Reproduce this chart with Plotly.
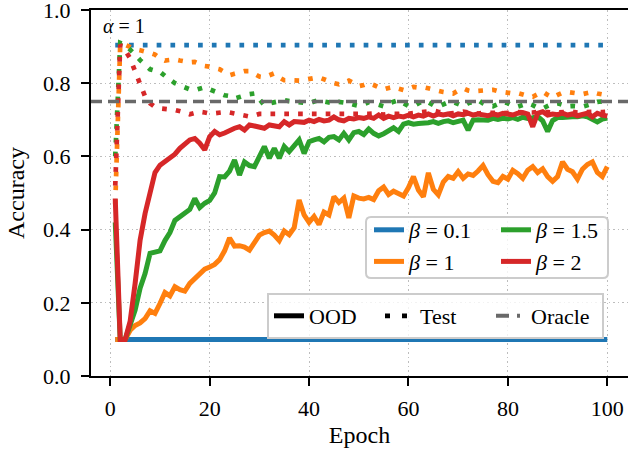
import plotly.graph_objects as go

# ---------------- data ----------------
epochs = list(range(1, 101))

b_ood = [
    0.100, 0.100, 0.100, 0.100, 0.100, 0.100, 0.100, 0.100, 0.100, 0.100,
    0.100, 0.100, 0.100, 0.100, 0.100, 0.100, 0.100, 0.100, 0.100, 0.100,
    0.100, 0.100, 0.100, 0.100, 0.100, 0.100, 0.100, 0.100, 0.100, 0.100,
    0.100, 0.100, 0.100, 0.100, 0.100, 0.100, 0.100, 0.100, 0.100, 0.100,
    0.100, 0.100, 0.100, 0.100, 0.100, 0.100, 0.100, 0.100, 0.100, 0.100,
    0.100, 0.100, 0.100, 0.100, 0.100, 0.100, 0.100, 0.100, 0.100, 0.100,
    0.100, 0.100, 0.100, 0.100, 0.100, 0.100, 0.100, 0.100, 0.100, 0.100,
    0.100, 0.100, 0.100, 0.100, 0.100, 0.100, 0.100, 0.100, 0.100, 0.100,
    0.100, 0.100, 0.100, 0.100, 0.100, 0.100, 0.100, 0.100, 0.100, 0.100,
    0.100, 0.100, 0.100, 0.100, 0.100, 0.100, 0.100, 0.100, 0.100, 0.100,
]
b_test = [
    0.904, 0.904, 0.904, 0.904, 0.904, 0.904, 0.904, 0.904, 0.904, 0.904,
    0.904, 0.904, 0.904, 0.904, 0.904, 0.904, 0.904, 0.904, 0.904, 0.904,
    0.904, 0.904, 0.904, 0.904, 0.904, 0.904, 0.904, 0.904, 0.904, 0.904,
    0.904, 0.904, 0.904, 0.904, 0.904, 0.904, 0.904, 0.904, 0.904, 0.904,
    0.904, 0.904, 0.904, 0.904, 0.904, 0.904, 0.904, 0.904, 0.904, 0.904,
    0.904, 0.904, 0.904, 0.904, 0.904, 0.904, 0.904, 0.904, 0.904, 0.904,
    0.904, 0.904, 0.904, 0.904, 0.904, 0.904, 0.904, 0.904, 0.904, 0.904,
    0.904, 0.904, 0.904, 0.904, 0.904, 0.904, 0.904, 0.904, 0.904, 0.904,
    0.904, 0.904, 0.904, 0.904, 0.904, 0.904, 0.904, 0.904, 0.904, 0.904,
    0.904, 0.904, 0.904, 0.904, 0.904, 0.904, 0.904, 0.904, 0.904, 0.904,
]
o_ood = [
    0.100, 0.100, 0.100, 0.125, 0.138, 0.145, 0.157, 0.178, 0.171, 0.198,
    0.228, 0.219, 0.244, 0.236, 0.232, 0.253, 0.266, 0.276, 0.292, 0.298,
    0.305, 0.318, 0.342, 0.377, 0.355, 0.356, 0.352, 0.344, 0.365, 0.385,
    0.392, 0.396, 0.385, 0.370, 0.396, 0.386, 0.405, 0.481, 0.440, 0.420,
    0.436, 0.414, 0.448, 0.440, 0.490, 0.474, 0.486, 0.432, 0.492, 0.486,
    0.484, 0.488, 0.482, 0.506, 0.516, 0.496, 0.505, 0.500, 0.492, 0.515,
    0.545, 0.508, 0.490, 0.555, 0.510, 0.495, 0.530, 0.545, 0.540, 0.558,
    0.540, 0.552, 0.548, 0.560, 0.575, 0.550, 0.532, 0.528, 0.545, 0.538,
    0.562, 0.553, 0.540, 0.562, 0.572, 0.556, 0.566, 0.545, 0.532, 0.545,
    0.585, 0.565, 0.558, 0.538, 0.565, 0.578, 0.585, 0.556, 0.545, 0.572,
]
o_test = [
    0.470, 0.905, 0.905, 0.898, 0.893, 0.890, 0.888, 0.883, 0.878, 0.868,
    0.862, 0.863, 0.865, 0.862, 0.858, 0.857, 0.858, 0.852, 0.847, 0.845,
    0.842, 0.838, 0.830, 0.822, 0.826, 0.831, 0.833, 0.833, 0.825, 0.818,
    0.816, 0.822, 0.827, 0.816, 0.808, 0.808, 0.807, 0.807, 0.809, 0.810,
    0.814, 0.816, 0.810, 0.807, 0.800, 0.797, 0.802, 0.807, 0.800, 0.792,
    0.795, 0.800, 0.795, 0.788, 0.783, 0.787, 0.790, 0.785, 0.781, 0.785,
    0.790, 0.788, 0.789, 0.786, 0.782, 0.779, 0.776, 0.774, 0.772, 0.780,
    0.786, 0.780, 0.777, 0.779, 0.781, 0.782, 0.782, 0.778, 0.775, 0.772,
    0.772, 0.773, 0.768, 0.765, 0.763, 0.770, 0.777, 0.768, 0.761, 0.768,
    0.774, 0.776, 0.775, 0.772, 0.770, 0.773, 0.776, 0.772, 0.768, 0.767,
]
g_ood = [
    0.420, 0.100, 0.100, 0.145, 0.180, 0.240, 0.280, 0.335, 0.340, 0.342,
    0.370, 0.392, 0.425, 0.435, 0.444, 0.455, 0.485, 0.460, 0.472, 0.480,
    0.500, 0.545, 0.544, 0.560, 0.590, 0.549, 0.585, 0.575, 0.572, 0.600,
    0.627, 0.595, 0.622, 0.595, 0.627, 0.613, 0.630, 0.645, 0.608, 0.640,
    0.645, 0.649, 0.640, 0.652, 0.654, 0.645, 0.663, 0.645, 0.665, 0.668,
    0.660, 0.675, 0.663, 0.656, 0.662, 0.672, 0.678, 0.668, 0.688, 0.692,
    0.688, 0.690, 0.690, 0.692, 0.695, 0.690, 0.695, 0.697, 0.692, 0.697,
    0.699, 0.672, 0.699, 0.700, 0.701, 0.699, 0.704, 0.701, 0.704, 0.702,
    0.706, 0.701, 0.707, 0.704, 0.706, 0.709, 0.697, 0.668, 0.698, 0.706,
    0.706, 0.708, 0.708, 0.708, 0.711, 0.708, 0.699, 0.694, 0.702, 0.705,
]
g_test = [
    0.600, 0.910, 0.905, 0.893, 0.878, 0.863, 0.850, 0.838, 0.834, 0.831,
    0.820, 0.809, 0.800, 0.794, 0.788, 0.783, 0.781, 0.786, 0.789, 0.783,
    0.777, 0.772, 0.767, 0.765, 0.758, 0.762, 0.767, 0.770, 0.772, 0.755,
    0.740, 0.745, 0.749, 0.752, 0.754, 0.751, 0.749, 0.747, 0.746, 0.745,
    0.750, 0.754, 0.750, 0.746, 0.745, 0.749, 0.748, 0.745, 0.741, 0.738,
    0.743, 0.748, 0.745, 0.740, 0.737, 0.745, 0.750, 0.754, 0.745, 0.738,
    0.737, 0.745, 0.752, 0.748, 0.740, 0.736, 0.742, 0.748, 0.749, 0.743,
    0.737, 0.745, 0.751, 0.754, 0.745, 0.739, 0.737, 0.743, 0.749, 0.745,
    0.738, 0.736, 0.741, 0.745, 0.740, 0.733, 0.731, 0.738, 0.744, 0.745,
    0.740, 0.737, 0.738, 0.737, 0.736, 0.740, 0.746, 0.749, 0.750, 0.748,
]
r_ood = [
    0.485, 0.100, 0.100, 0.150, 0.253, 0.371, 0.444, 0.500, 0.556, 0.576,
    0.587, 0.594, 0.606, 0.622, 0.632, 0.645, 0.649, 0.636, 0.618, 0.654,
    0.668, 0.659, 0.664, 0.672, 0.677, 0.681, 0.672, 0.686, 0.683, 0.681,
    0.677, 0.686, 0.683, 0.681, 0.695, 0.686, 0.695, 0.695, 0.693, 0.699,
    0.695, 0.701, 0.697, 0.699, 0.708, 0.700, 0.697, 0.704, 0.702, 0.706,
    0.704, 0.708, 0.704, 0.713, 0.704, 0.710, 0.706, 0.710, 0.708, 0.713,
    0.708, 0.713, 0.710, 0.716, 0.710, 0.716, 0.713, 0.716, 0.711, 0.716,
    0.714, 0.718, 0.713, 0.716, 0.713, 0.711, 0.716, 0.713, 0.718, 0.716,
    0.713, 0.718, 0.720, 0.716, 0.681, 0.718, 0.722, 0.713, 0.716, 0.714,
    0.718, 0.713, 0.716, 0.711, 0.716, 0.718, 0.708, 0.718, 0.713, 0.710,
]
r_test = [
    0.520, 0.905, 0.890, 0.868, 0.832, 0.800, 0.764, 0.745, 0.735, 0.731,
    0.728, 0.728, 0.727, 0.725, 0.720, 0.715, 0.718, 0.722, 0.720, 0.717,
    0.718, 0.720, 0.721, 0.720, 0.718, 0.716, 0.712, 0.709, 0.712, 0.716,
    0.716, 0.716, 0.716, 0.716, 0.716, 0.716, 0.714, 0.713, 0.713, 0.713,
    0.713, 0.713, 0.715, 0.716, 0.716, 0.714, 0.713, 0.714, 0.716, 0.715,
    0.714, 0.716, 0.717, 0.715, 0.714, 0.716, 0.717, 0.716, 0.715, 0.717,
    0.718, 0.720, 0.722, 0.724, 0.725, 0.722, 0.719, 0.717, 0.718, 0.720,
    0.722, 0.720, 0.718, 0.717, 0.719, 0.720, 0.721, 0.719, 0.718, 0.720,
    0.722, 0.721, 0.720, 0.719, 0.720, 0.722, 0.723, 0.721, 0.720, 0.721,
    0.722, 0.723, 0.722, 0.720, 0.721, 0.722, 0.723, 0.722, 0.721, 0.722,
]
oracle = 0.75

beta_labels = ["<i>β</i> = 0.1", "<i>β</i> = 1", "<i>β</i> = 1.5", "<i>β</i> = 2"]
style_labels = ["OOD", "Test", "Oracle"]
x_ticks = [0, 20, 40, 60, 80, 100]
y_ticks = [0.0, 0.2, 0.4, 0.6, 0.8, 1.0]
y_tick_text = ["0.0", "0.2", "0.4", "0.6", "0.8", "1.0"]

# ---------------- styling ----------------
W, H = 628, 452
ML, MR, MT, MB = 91, 0, 10, 76
PW, PH = W - ML - MR, H - MT - MB
FONT = "Liberation Serif, Times New Roman, serif"
colors = ["#1f77b4", "#ff7f0e", "#2ca02c", "#d62728"]
LW = 5
DOT = "4.7px,9.1px"
legend_of = ["legend", "legend", "legend3", "legend3"]

def px_x(p):
    return (p - ML) / PW

def px_y(p):
    return (H - MB - p) / PH

fig = go.Figure()
series = [(b_ood, b_test), (o_ood, o_test), (g_ood, g_test), (r_ood, r_test)]
for i, (ood, test) in enumerate(series):
    fig.add_trace(go.Scatter(
        x=epochs, y=ood, mode="lines", name=beta_labels[i],
        line=dict(color=colors[i], width=LW), legend=legend_of[i],
        hoverinfo="skip"))
    fig.add_trace(go.Scatter(
        x=epochs, y=test, mode="lines", showlegend=False,
        line=dict(color=colors[i], width=4.7, dash=DOT), hoverinfo="skip"))

# style legend entries
fig.add_trace(go.Scatter(x=[None], y=[None], mode="lines", name=style_labels[0],
                         line=dict(color="black", width=LW), legend="legend2"))
fig.add_trace(go.Scatter(x=[None], y=[None], mode="lines", name=style_labels[1],
                         line=dict(color="black", width=4.7, dash="5px,12px"), legend="legend2"))
fig.add_trace(go.Scatter(x=[None], y=[None], mode="lines", name=style_labels[2],
                         line=dict(color="dimgray", width=4, dash="13px,8px,3px,20px"), legend="legend2"))

# rounded box for the beta legend
def rounded_box(x0, y0, x1, y1, r):
    X = px_x
    Y = px_y
    return (f"M {X(x0 + r)},{Y(y0)} L {X(x1 - r)},{Y(y0)} Q {X(x1)},{Y(y0)} {X(x1)},{Y(y0 + r)} "
            f"L {X(x1)},{Y(y1 - r)} Q {X(x1)},{Y(y1)} {X(x1 - r)},{Y(y1)} "
            f"L {X(x0 + r)},{Y(y1)} Q {X(x0)},{Y(y1)} {X(x0)},{Y(y1 - r)} "
            f"L {X(x0)},{Y(y0 + r)} Q {X(x0)},{Y(y0)} {X(x0 + r)},{Y(y0)} Z")

shapes = [
    dict(type="line", xref="paper", yref="y", x0=0, x1=1, y0=oracle, y1=oracle,
         line=dict(color="dimgray", width=3.5, dash="11px,6px"), layer="above"),
    dict(type="path", xref="paper", yref="paper", path=rounded_box(366, 217, 608, 278, 5),
         line=dict(color="#cccccc", width=2), fillcolor="rgba(255,255,255,0.8)", layer="above"),
]

axis_common = dict(
    showline=True, linecolor="black", linewidth=2,
    ticks="outside", ticklen=8, tickwidth=2, tickcolor="black",
    tickfont=dict(family=FONT, size=22, color="black"),
    showgrid=True, gridcolor="#bdbdbd", gridwidth=1.2, griddash="1.5px,3px",
    zeroline=False, automargin=False, ticklabeloverflow="allow",
)

fig.update_layout(
    width=W, height=H,
    margin=dict(l=ML, r=MR, t=MT, b=MB),
    paper_bgcolor="white", plot_bgcolor="white",
    font=dict(family=FONT, color="black"),
    xaxis=dict(range=[-3.88, 104.17], tickvals=x_ticks, mirror=True,
               title=dict(text="Epoch", font=dict(family=FONT, size=24), standoff=6),
               ticklabelstandoff=4, **axis_common),
    yaxis=dict(range=[0, 1], tickvals=y_ticks, ticktext=y_tick_text, mirror=False,
               title=dict(text="Accuracy", font=dict(family=FONT, size=24), standoff=12),
               ticklabelstandoff=6, **axis_common),
    legend=dict(x=px_x(369), y=px_y(209), xanchor="left", yanchor="top",
                bgcolor="rgba(0,0,0,0)", borderwidth=0,
                font=dict(family=FONT, size=22, color="black"), orientation="v"),
    legend3=dict(x=px_x(496), y=px_y(209), xanchor="left", yanchor="top",
                 bgcolor="rgba(0,0,0,0)", borderwidth=0,
                 font=dict(family=FONT, size=22, color="black"), orientation="v"),
    legend2=dict(x=px_x(267), y=px_y(293), xanchor="left", yanchor="top",
                 bgcolor="rgba(255,255,255,0.8)", bordercolor="#cccccc", borderwidth=2,
                 font=dict(family=FONT, size=22, color="black"), orientation="h",
                 entrywidth=66, entrywidthmode="pixels"),
    shapes=shapes,
    annotations=[dict(text="<i>α</i> = 1", xref="paper", yref="paper",
                      x=px_x(101), y=px_y(26), xanchor="left", yanchor="middle",
                      showarrow=False, font=dict(family=FONT, size=20, color="black"))],
    showlegend=True,
)

fig.write_html("out.html", config={"displayModeBar": False},
               post_script="document.body.style.margin='0px';")
